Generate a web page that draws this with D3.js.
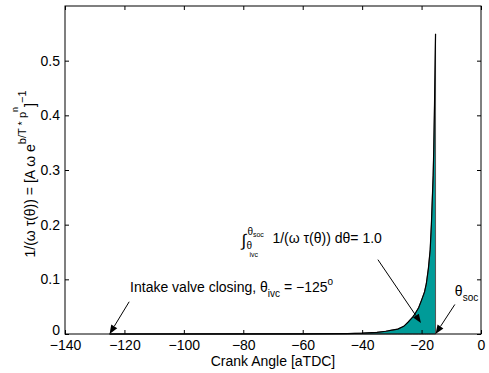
<!DOCTYPE html>
<html>
<head>
<meta charset="utf-8">
<script src="https://cdn.jsdelivr.net/npm/d3@7"></script>
<style>
  body { margin: 0; background: #fff; }
  svg text { font-family: "Liberation Sans", Arial, sans-serif; fill: #000; }
</style>
</head>
<body>
<div id="chart-area"></div>
<script>
// crank angle [aTDC] and 1/(w tau)
const angles = [-125, -80, -60, -45, -40, -35, -32, -30, -28, -26, -24.5, -23, -22.2, -21, -20, -19, -18.4, -17.7, -17.1, -16.7, -16.4, -16.1, -15.9, -15.7, -15.5, -15.3];
const invTau = [0, 0.0001, 0.0003, 0.0008, 0.0015, 0.003, 0.005, 0.007, 0.009, 0.014, 0.022, 0.031, 0.037, 0.048, 0.062, 0.077, 0.092, 0.12, 0.154, 0.2, 0.245, 0.29, 0.337, 0.4, 0.47, 0.549];
const xTicks = [-140, -120, -100, -80, -60, -40, -20, 0];
const yTicks = [0, 0.1, 0.2, 0.3, 0.4, 0.5];
const thetaIvc = -125;
const thetaSoc = -15.3;

const drawChart = () => {
  const WIDTH = 489;
  const HEIGHT = 373;
  const m = { left: 65, right: 8, top: 6, bottom: 39 };
  const TEAL = "#009b98";

  const pts = angles.map((a, i) => ({ a: a, v: invTau[i] }));

  const svg = d3.select("#chart-area")
    .append("svg")
    .attr("width", WIDTH)
    .attr("height", HEIGHT);

  const x = d3.scaleLinear()
    .domain([-140, 0])
    .range([m.left, WIDTH - m.right]);

  const y = d3.scaleLinear()
    .domain([0, 0.6])
    .range([HEIGHT - m.bottom, m.top]);

  // filled area under the curve, ivc -> soc
  const area = d3.area()
    .x(d => x(d.a))
    .y0(y(0))
    .y1(d => y(d.v));

  svg.append("path")
    .datum(pts)
    .attr("d", area)
    .attr("fill", TEAL)
    .attr("stroke", "#555")
    .attr("stroke-width", 1);

  const line = d3.line()
    .x(d => x(d.a))
    .y(d => y(d.v));

  svg.append("path")
    .datum(pts)
    .attr("d", line)
    .attr("fill", "none")
    .attr("stroke", "#000")
    .attr("stroke-width", 1.2);

  // axes, ticks inward like matlab
  const fmtY = d => (d === 0 ? "0" : d3.format(".1f")(d));
  const axisStyle = g => {
    g.select(".domain").remove();
    g.selectAll("line").attr("stroke", "#000");
    g.selectAll("text").style("font-size", "14px").attr("fill", "#000");
  };

  svg.append("g")
    .attr("transform", `translate(0,${y(0)})`)
    .call(d3.axisBottom(x).tickValues(xTicks).tickSizeInner(-4).tickSizeOuter(0).tickPadding(6))
    .call(axisStyle);

  svg.append("g")
    .attr("transform", `translate(0,${y(0.6)})`)
    .call(d3.axisTop(x).tickValues(xTicks).tickSizeInner(-4).tickSizeOuter(0).tickFormat(""))
    .call(axisStyle);

  const yAxis = svg.append("g")
    .attr("transform", `translate(${x(-140)},0)`)
    .call(d3.axisLeft(y).tickValues(yTicks).tickSizeInner(-4).tickSizeOuter(0).tickPadding(5).tickFormat(fmtY))
    .call(axisStyle);
  // lift the "0" a touch so it clears the -140 label
  yAxis.selectAll(".tick text").filter(d => d === 0).attr("dy", "0em");

  svg.append("g")
    .attr("transform", `translate(${x(0)},0)`)
    .call(d3.axisRight(y).tickValues(yTicks).tickSizeInner(-4).tickSizeOuter(0).tickFormat(""))
    .call(axisStyle);

  svg.append("rect")
    .attr("x", x(-140))
    .attr("y", y(0.6))
    .attr("width", x(0) - x(-140))
    .attr("height", y(0) - y(0.6))
    .attr("fill", "none")
    .attr("stroke", "#000")
    .attr("stroke-width", 1);

  // axis labels
  svg.append("text")
    .attr("x", (x(-140) + x(0)) / 2)
    .attr("y", 366)
    .attr("text-anchor", "middle")
    .style("font-size", "14px")
    .text("Crank Angle [aTDC]");

  const yl = svg.append("text")
    .attr("transform", `translate(35,${(y(0) + y(0.6)) / 2 + 4}) rotate(-90)`)
    .attr("text-anchor", "middle")
    .style("font-size", "14px");
  yl.append("tspan").text("1/(ω τ(θ)) = [A ω e");
  yl.append("tspan").attr("dy", -9).style("font-size", "11px").text("b/T");
  yl.append("tspan").style("font-size", "11px").text(" * p");
  yl.append("tspan").attr("dy", -8).style("font-size", "9px").text("n");
  yl.append("tspan").attr("dy", 17).text("]");
  yl.append("tspan").attr("dy", -9).style("font-size", "11px").text("−1");

  // arrows
  const arrow = (x1, y1, x2, y2) => {
    const ang = Math.atan2(y2 - y1, x2 - x1);
    const L = 9, W = 3.5;
    const bx = x2 - L * Math.cos(ang), by = y2 - L * Math.sin(ang);
    svg.append("line")
      .attr("x1", x1).attr("y1", y1).attr("x2", bx).attr("y2", by)
      .attr("stroke", "#000").attr("stroke-width", 1);
    const px = -Math.sin(ang) * W, py = Math.cos(ang) * W;
    svg.append("path")
      .attr("d", `M${x2},${y2}L${bx + px},${by + py}L${bx - px},${by - py}Z`)
      .attr("fill", "#000");
  };

  // intake valve closing
  const t1 = svg.append("text")
    .attr("x", x(-118.1))
    .attr("y", y(0.077))
    .style("font-size", "14px");
  t1.append("tspan").text("Intake valve closing, θ");
  t1.append("tspan").attr("dy", 5).style("font-size", "10px").text("ivc");
  t1.append("tspan").attr("dy", -5).text(" = −125");
  t1.append("tspan").attr("dy", -7).style("font-size", "10px").text("o");
  arrow(x(-118.4), y(0.059), x(thetaIvc), y(0));

  // integral
  const ix = x(-80.3);
  const iy = y(0.167);
  svg.append("text")
    .attr("x", ix - 1)
    .attr("y", iy + 3)
    .style("font-size", "17px")
    .text("∫");
  const t2 = svg.append("text")
    .attr("x", ix + 5)
    .attr("y", iy - 8)
    .style("font-size", "10px");
  t2.append("tspan").text("θ");
  t2.append("tspan").attr("dy", 2).style("font-size", "7px").text("soc");
  const t2b = svg.append("text")
    .attr("x", ix + 4)
    .attr("y", iy + 6)
    .style("font-size", "10px");
  t2b.append("tspan").text("θ");
  t2b.append("tspan").attr("x", ix + 7).attr("dy", 8).style("font-size", "7px").text("ivc");
  svg.append("text")
    .attr("x", x(-70.2))
    .attr("y", iy)
    .style("font-size", "14px")
    .text("1/(ω τ(θ)) dθ= 1.0");
  arrow(x(-34.7), y(0.136), x(-20.2), y(0.02));

  // start of combustion
  const t3 = svg.append("text")
    .attr("x", x(-8.8))
    .attr("y", y(0.07))
    .style("font-size", "14px");
  t3.append("tspan").text("θ");
  t3.append("tspan").attr("dy", 5).style("font-size", "10px").text("soc");
  arrow(x(-8.8), y(0.054), x(thetaSoc), y(0));
};

window.onload = drawChart;
</script>
</body>
</html>
